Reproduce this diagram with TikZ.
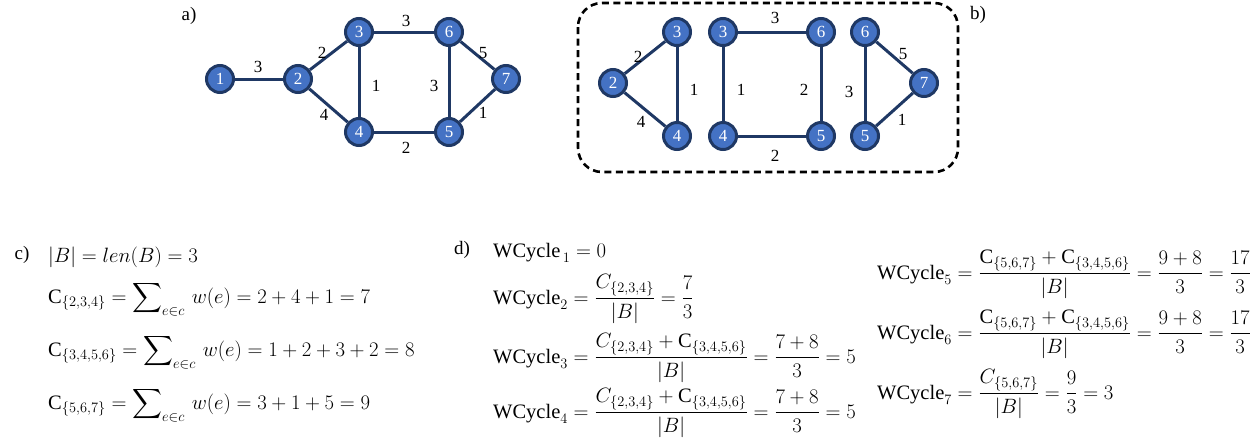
\documentclass[tikz,border=0pt]{standalone}
\usepackage{amsmath}
\usepackage{fontspec}
\setmainfont{Liberation Serif}
\usetikzlibrary{calc}
\definecolor{nodefill}{HTML}{4472C4}
\definecolor{navy}{HTML}{1F3864}
\begin{document}
\begin{tikzpicture}[x=1pt,y=-1pt,
  vtx/.style={circle, draw=navy, line width=3pt, fill=nodefill, minimum size=27pt,
    inner sep=0pt, text=white, font=\fontsize{17}{17}\selectfont},
  edge/.style={draw=navy, line width=3pt},
  lbl/.style={inner sep=0pt, font=\fontsize{17}{17}\selectfont},
  tag/.style={inner sep=0pt, font=\fontsize{19}{19}\selectfont},
  eqn/.style={anchor=base west, inner sep=0pt, font=\fontsize{20.5}{24}\selectfont}]
\useasboundingbox (0,0) rectangle (1252,445);

% ---- a) the whole graph
\node[tag] (ta) at (189,16) {a)};
\node[vtx] (a1) at (220,79) {1};
\node[vtx] (a2) at (298,79) {2};
\node[vtx] (a3) at (359,32) {3};
\node[vtx] (a4) at (359,132) {4};
\node[vtx] (a6) at (449,32) {6};
\node[vtx] (a5) at (449,132) {5};
\node[vtx] (a7) at (506,79) {7};
\draw[edge] (a1) -- node[lbl, xshift=-1pt, yshift=12pt] {3} (a2);
\draw[edge] (a2) -- node[lbl, xshift=-6.5pt, yshift=2.5pt] {2} (a3);
\draw[edge] (a2) -- node[lbl, xshift=-4.5pt, yshift=-9.5pt] {4} (a4);
\draw[edge] (a3) -- node[lbl, xshift=17pt, yshift=-4pt] {1} (a4);
\draw[edge] (a3) -- node[lbl, xshift=2pt, yshift=11pt] {3} (a6);
\draw[edge] (a6) -- node[lbl, xshift=-15pt, yshift=-4pt] {3} (a5);
\draw[edge] (a6) -- node[lbl, xshift=5.5pt, yshift=2.5pt] {5} (a7);
\draw[edge] (a5) -- node[lbl, xshift=5.5pt, yshift=-7.5pt] {1} (a7);
\draw[edge] (a4) -- node[lbl, xshift=2pt, yshift=-16pt] {2} (a5);

% ---- b) the cycle basis
\draw[line width=2.6pt, dash pattern=on 7pt off 4.5pt, rounded corners=24pt]
  (578,3) rectangle (958,172);
\node[tag] (tb) at (978,15) {b)};
\node[vtx] (b2)  at (613,83)  {2};
\node[vtx] (b3)  at (677,32)  {3};
\node[vtx] (b4)  at (677,136) {4};
\node[vtx] (c3)  at (723,32)  {3};
\node[vtx] (c4)  at (723,136) {4};
\node[vtx] (c6)  at (821,32)  {6};
\node[vtx] (c5)  at (821,136) {5};
\node[vtx] (d6)  at (865,32)  {6};
\node[vtx] (d5)  at (865,136) {5};
\node[vtx] (d7)  at (924,83)  {7};
\draw[edge] (b2) -- node[lbl, xshift=-7pt, yshift=0.5pt] {2} (b3);
\draw[edge] (b2) -- node[lbl, xshift=-4pt, yshift=-12.5pt] {4} (b4);
\draw[edge] (b3) -- node[lbl, xshift=17pt, yshift=-6pt] {1} (b4);
\draw[edge] (c3) -- node[lbl, xshift=18pt, yshift=-6pt] {1} (c4);
\draw[edge] (c3) -- node[lbl, xshift=3pt, yshift=14pt] {3} (c6);
\draw[edge] (c4) -- node[lbl, xshift=3pt, yshift=-20pt] {2} (c5);
\draw[edge] (c6) -- node[lbl, xshift=-17pt, yshift=-6pt] {2} (c5);
\draw[edge] (d6) -- node[lbl, xshift=-16pt, yshift=-8pt] {3} (d5);
\draw[edge] (d6) -- node[lbl, xshift=8.5pt, yshift=3.5pt] {5} (d7);
\draw[edge] (d5) -- node[lbl, xshift=7.5pt, yshift=-10.5pt] {1} (d7);

% ---- c) cycle weights
\node[tag] (tc) at (22,255) {c)};
\node[eqn] (c0) at (48,262) {$|B| = len(B) = 3$};
\node[eqn] (c1) at (48,303) {$\mathrm{C}_{\{2,3,4\}} = \displaystyle\sum\nolimits_{e\in c}\, w(e) = 2 + 4 + 1 = 7$};
\node[eqn] (c2) at (48,356) {$\mathrm{C}_{\{3,4,5,6\}} = \displaystyle\sum\nolimits_{e\in c}\, w(e) = 1 + 2 + 3 + 2 = 8$};
\node[eqn] (c3e) at (48,409) {$\mathrm{C}_{\{5,6,7\}} = \displaystyle\sum\nolimits_{e\in c}\, w(e) = 3 + 1 + 5 = 9$};

% ---- d) node weights
\node[tag] (td) at (462,250) {d)};
\node[eqn] (w1) at (493,257) {$\mathrm{WCycle}_{\,1} = 0$};
\node[eqn] (w2) at (493,304) {$\mathrm{WCycle}_2 = \dfrac{C_{\{2,3,4\}}}{|B|} = \dfrac{7}{3}$};
\node[eqn] (w3) at (493,363) {$\mathrm{WCycle}_3 = \dfrac{C_{\{2,3,4\}} + \mathrm{C}_{\{3,4,5,6\}}}{|B|} = \dfrac{7+8}{3} = 5$};
\node[eqn] (w4) at (493,418) {$\mathrm{WCycle}_4 = \dfrac{C_{\{2,3,4\}} + \mathrm{C}_{\{3,4,5,6\}}}{|B|} = \dfrac{7+8}{3} = 5$};
\node[eqn] (w5) at (877,279) {$\mathrm{WCycle}_5 = \dfrac{\mathrm{C}_{\{5,6,7\}} + \mathrm{C}_{\{3,4,5,6\}}}{|B|} = \dfrac{9+8}{3} = \dfrac{17}{3}$};
\node[eqn] (w6) at (877,339) {$\mathrm{WCycle}_6 = \dfrac{\mathrm{C}_{\{5,6,7\}} + \mathrm{C}_{\{3,4,5,6\}}}{|B|} = \dfrac{9+8}{3} = \dfrac{17}{3}$};
\node[eqn] (w7) at (877,399) {$\mathrm{WCycle}_7 = \dfrac{C_{\{5,6,7\}}}{|B|} = \dfrac{9}{3} = 3$};
\end{tikzpicture}
\end{document}
